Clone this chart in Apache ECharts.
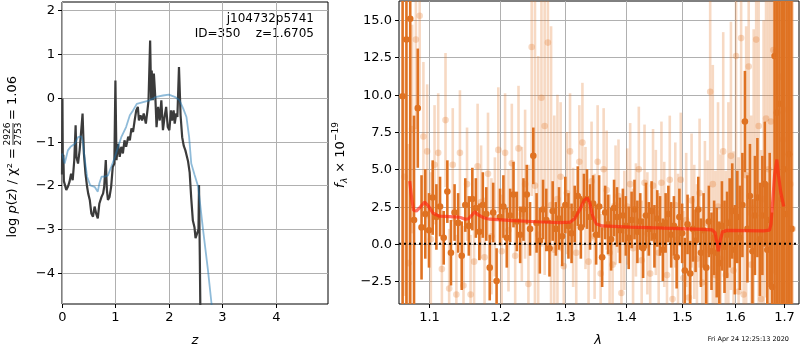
<!DOCTYPE html>
<html>
<head>
<meta charset="utf-8">
<title>redshift fit</title>
<script src="https://cdn.jsdelivr.net/npm/echarts@6.0.0/dist/echarts.min.js"></script>
<style>
  html, body { margin: 0; padding: 0; background: #fff; }
  #main { width: 800px; height: 350px; }
</style>
</head>
<body>
<div id="main"></div>
<script>
// 左图: log p(z)
const pzZ = [0.000, 0.008, 0.016, 0.025, 0.035, 0.05, 0.08, 0.11, 0.14, 0.17, 0.20, 0.23, 0.255, 0.27, 0.30, 0.33, 0.36, 0.385, 0.41, 0.44,
  0.47, 0.49, 0.52, 0.55, 0.58, 0.61, 0.64, 0.67, 0.70, 0.74, 0.77, 0.79, 0.82, 0.84, 0.86, 0.89, 0.92, 0.95, 0.98, 1.00,
  1.02, 1.05, 1.08, 1.11, 1.14, 1.17, 1.20, 1.24, 1.27, 1.30, 1.33, 1.36, 1.39, 1.42, 1.44, 1.47, 1.50, 1.53, 1.57, 1.60,
  1.62, 1.65, 1.67, 1.68, 1.70, 1.72, 1.75, 1.77, 1.80, 1.83, 1.86, 1.89, 1.92, 1.95, 1.98, 2.01, 2.04, 2.06, 2.09, 2.11,
  2.14, 2.16, 2.19, 2.22, 2.25, 2.28, 2.31, 2.33, 2.36, 2.39, 2.42, 2.45, 2.48, 2.50, 2.53, 2.555, 2.565, 2.58, 2.60];
const pzLogP = [-1.75, -0.02, -1.6, -1.3, -1.9, -1.88, -2.1, -2.03, -1.92, -1.73, -1.88, -1.42, -0.63, -1.35, -1.5, -1.2, -1.16, -0.36, -1.27, -1.73,
  -2.03, -2.18, -2.33, -2.64, -2.71, -2.48, -2.64, -2.75, -2.41, -2.26, -2.18, -2.03, -1.42, -2.1, -2.33, -2.26, -2.03, -1.58, -1.5, 0.39,
  -1.42, -1.05, -1.35, -1.12, -1.27, -0.97, -1.12, -0.89, -0.97, -0.7, -0.78, -0.52, -0.29, -0.21, -0.52, -0.4, -0.52, -0.36, -0.59, -0.29,
  -0.06, 1.3, -0.06, 0.62, -0.06, 0.55, -0.06, -0.67, -0.21, -0.52, -0.06, -0.74, -0.44, -0.21, -0.67, -0.74, -0.29, -0.52, -0.29, -0.59,
  -0.36, -0.44, 0.7, -0.4, -0.9, -1.1, -1.2, -1.3, -1.45, -1.7, -2.3, -2.8, -2.95, -3.2, -3.24, -3.0, -1.99, -3.6, -6.0];
const priorZ = [0, 0.05, 0.08, 0.11, 0.16, 0.24, 0.30, 0.36, 0.39, 0.42, 0.47, 0.53, 0.61, 0.67, 0.70, 0.74, 0.80, 0.86, 0.92, 0.99,
  1.05, 1.11, 1.20, 1.27, 1.33, 1.40, 1.52, 1.64, 1.77, 1.89, 2.00, 2.11, 2.20, 2.27, 2.33, 2.38, 2.42, 2.48, 2.55, 2.64,
  2.73, 2.80, 2.84];
const priorLogP = [-1.27, -1.5, -1.35, -1.2, -1.12, -1.05, -0.9, -0.88, -1.0, -1.35, -1.8, -2.0, -2.03, -2.14, -1.95, -1.8, -1.8, -1.77, -1.58, -1.35,
  -1.12, -0.9, -0.67, -0.4, -0.29, -0.14, -0.1, -0.06, 0.02, 0.05, 0.07, 0.02, -0.06, -0.25, -0.44, -0.9, -1.5, -1.75, -2.03, -3.0,
  -3.9, -4.7, -5.2];

// 右图: 光谱
const darkWave = [1.065, 1.070, 1.075, 1.080, 1.085, 1.090, 1.095, 1.100, 1.105, 1.110,
  1.115, 1.120, 1.125, 1.130, 1.135, 1.140, 1.145, 1.150, 1.155, 1.160,
  1.165, 1.170, 1.175, 1.180, 1.185, 1.190, 1.195, 1.200, 1.205, 1.210,
  1.215, 1.220, 1.225, 1.230, 1.235, 1.240, 1.245, 1.250, 1.255, 1.260,
  1.265, 1.270, 1.275, 1.280, 1.285, 1.290, 1.295, 1.300, 1.305, 1.310,
  1.315, 1.320, 1.325, 1.330, 1.335, 1.340, 1.345, 1.350, 1.355, 1.360,
  1.365, 1.370, 1.375, 1.380, 1.385, 1.390, 1.395, 1.400, 1.405, 1.410,
  1.415, 1.420, 1.425, 1.430, 1.435, 1.440, 1.445, 1.450, 1.455, 1.460,
  1.465, 1.470, 1.475, 1.480, 1.485, 1.490, 1.495, 1.500, 1.505, 1.510,
  1.515, 1.520, 1.525, 1.530, 1.535, 1.540, 1.545, 1.550, 1.555, 1.560,
  1.565, 1.570, 1.575, 1.580, 1.585, 1.590, 1.595, 1.600, 1.605, 1.610,
  1.615, 1.620, 1.625, 1.630, 1.635, 1.640, 1.645, 1.650, 1.655, 1.660,
  1.665, 1.670, 1.675, 1.680, 1.685, 1.690, 1.695, 1.700, 1.705, 1.710,
  1.715];
const darkFlux = [9.9, 13.7, 15.1, 1.6, 9.1, 1.1, 2.0, 0.9, 3.1, 1.8,
  2.5, 0.4, 3.5, -0.6, 2.1, 1.4, -0.8, 2.6, 1.2, 3.0,
  2.4, 0.8, 2.6, 2.0, -1.6, 2.1, -2.5, 1.8, 2.5, 0.4,
  1.9, 3.3, 1.5, 0.6, 2.3, 3.3, 1.0, 5.9, 1.4, 0.2,
  2.3, 1.6, -0.3, 2.2, 1.0, 1.7, 0.5, 2.6, 1.2, 0.7,
  2.0, 3.2, 1.1, 2.9, 3.0, 1.8, 2.7, 0.6, 2.5, -0.9,
  2.1, 1.3, 0.3, 2.4, 1.8, 0.9, 1.9, 1.2, 0.4, 1.6,
  2.3, 0.8, 1.5, -0.3, 1.9, 1.0, 2.2, 0.5, 1.7, 1.2,
  -0.4, 1.4, 2.0, 0.6, 1.2, -0.9, 1.8, 0.7, -1.8, 1.3,
  -2.0, 1.0, 0.2, 2.3, -0.6, 0.9, -1.6, 1.5, -0.5, 0.4,
  -0.6, -1.3, 1.2, -0.2, 0.6, 1.4, 2.2, -0.4, 1.8, 0.4,
  2.6, 8.2, 1.0, 3.2, -0.5, 1.9, 3.1, 0.3, 1.9, 4.0,
  -0.4, 1.6, -2.9, 12.6, 8.8, 9.4, 3.0, 5.0, 2.0, 6.0,
  1.0];
const darkErr = [25, 25, 25, 7, 4, 3.5, 3, 2.5, 2.5, 2.2,
  2.0, 1.8, 2.1, 2.2, 1.9, 2.0, 2.3, 1.8, 2.0, 2.1,
  2.0, 1.9, 2.2, 1.8, 2.2, 2.0, 2.2, 1.9, 2.1, 2.0,
  1.8, 2.2, 2.0, 1.9, 2.1, 2.0, 1.8, 1.9, 2.0, 2.2,
  2.0, 2.1, 1.9, 2.0, 1.8, 2.1, 2.0, 1.9, 2.2, 2.0,
  1.9, 2.0, 2.1, 1.8, 2.0, 2.2, 1.9, 2.0, 2.1, 2.0,
  1.8, 2.0, 2.1, 1.9, 2.0, 2.2, 1.8, 2.0, 2.1, 1.9,
  2.0, 2.1, 1.9, 2.0, 2.2, 1.8, 2.0, 2.1, 1.9, 2.0,
  2.1, 2.0, 1.9, 2.2, 2.0, 2.1, 1.9, 2.0, 2.2, 2.0,
  2.2, 2.2, 2.1, 2.2, 2.3, 2.5, 2.5, 2.4, 2.6, 2.5,
  3.0, 2.8, 3.0, 3.1, 2.9, 3.0, 3.2, 3.0, 3.1, 3.5,
  3.5, 3.4, 3.6, 3.5, 3.5, 4.0, 4.0, 3.8, 4.0, 4.2,
  4.5, 4.5, 5.0, 20, 20, 20, 25, 25, 25, 25,
  25];

const lightWave = [1.0675, 1.0725, 1.0775, 1.0825, 1.0875, 1.0925, 1.0975, 1.1025, 1.1075, 1.1125,
  1.1175, 1.1225, 1.1275, 1.1325, 1.1375, 1.1425, 1.1475, 1.1525, 1.1575, 1.1625,
  1.1675, 1.1725, 1.1775, 1.1825, 1.1875, 1.1925, 1.1975, 1.2025, 1.2075, 1.2125,
  1.2175, 1.2225, 1.2275, 1.2325, 1.2375, 1.2425, 1.2475, 1.2525, 1.2575, 1.2625,
  1.2675, 1.2725, 1.2775, 1.2825, 1.2875, 1.2925, 1.2975, 1.3025, 1.3075, 1.3125,
  1.3175, 1.3225, 1.3275, 1.3325, 1.3375, 1.3425, 1.3475, 1.3525, 1.3575, 1.3625,
  1.3675, 1.3725, 1.3775, 1.3825, 1.3875, 1.3925, 1.3975, 1.4025, 1.4075, 1.4125,
  1.4175, 1.4225, 1.4275, 1.4325, 1.4375, 1.4425, 1.4475, 1.4525, 1.4575, 1.4625,
  1.4675, 1.4725, 1.4775, 1.4825, 1.4875, 1.4925, 1.4975, 1.5025, 1.5075, 1.5125,
  1.5175, 1.5225, 1.5275, 1.5325, 1.5375, 1.5425, 1.5475, 1.5525, 1.5575, 1.5625,
  1.5675, 1.5725, 1.5775, 1.5825, 1.5875, 1.5925, 1.5975, 1.6025, 1.6075, 1.6125,
  1.6175, 1.6225, 1.6275, 1.6325, 1.6375, 1.6425, 1.6475, 1.6525, 1.6575, 1.6625,
  1.6675, 1.6725, 1.6775, 1.6825, 1.6875, 1.6925, 1.6975, 1.7025, 1.7075, 1.7125,
  1.7175];
const lightFlux = [4.5, -1.3, 7.7, 13.7, 15.3, 7.2, 6.2, 0.3, 5.3, 6.1,
  -1.7, 8.3, -3.0, 5.3, -3.4, 6.1, -2.8, 4.0, -3.4, -1.2,
  5.2, 2.8, -0.9, 4.7, 0.5, 1.8, 6.3, -0.5, 6.1, 0.9,
  5.4, -0.8, 6.4, 2.0, 4.0, -2.7, 13.2, 3.9, 0.6, 9.8,
  7.9, 13.5, 2.6, -0.4, 3.0, 4.5, -1.5, 3.4, 6.2, 1.1,
  -0.6, 5.5, 6.8, 2.4, -1.2, 4.2, 0.5, 5.5, -2.0, 5.0,
  3.6, -0.6, -1.4, 2.6, 3.2, -3.3, 0.9, 2.5, 4.0, -0.3,
  1.6, 5.0, -1.1, 4.1, 0.7, -2.0, 3.9, 2.1, -0.6, 4.1,
  1.3, -2.1, 4.3, -3.7, 2.6, 0.3, 4.3, -2.3, 1.6, -3.6,
  2.9, 0.8, -1.0, 3.4, -2.6, 1.4, -0.4, 10.2, 4.0, -2.1,
  2.5, -1.0, 6.2, -2.1, 1.5, 5.9, -1.8, 12.6, -3.2, 13.8,
  -3.4, 4.6, 11.9, -1.4, 2.4, 13.7, 7.9, -3.7, 3.0, 8.4,
  5.0, 8.2, 13.0, 12.9, 3.5, 11.2, 7.0, 2.0, 9.0, 4.0,
  1.0];
const lightErr = [8, 8, 7, 6, 6, 5, 4.5, 4.5, 4, 4,
  4.0, 4.5, 4.0, 3.8, 4.0, 4.2, 4.0, 3.8, 4.0, 4.0,
  4.2, 3.8, 4.0, 4.1, 3.9, 4.0, 4.2, 3.8, 4.0, 4.1,
  4.0, 4.0, 4.2, 4.5, 5.0, 8.0, 10, 13, 12, 10,
  10, 12, 12, 9, 7, 5, 4.0, 4.1, 3.9, 4.0,
  4.2, 3.8, 4.0, 4.1, 3.9, 4.0, 4.2, 3.8, 4.0, 4.1,
  4.0, 3.9, 4.1, 4.0, 3.8, 4.2, 4.0, 3.9, 4.1, 4.0,
  3.8, 4.2, 4.0, 3.9, 4.1, 4.0, 3.8, 4.2, 4.0, 4.1,
  4.2, 4.0, 4.3, 4.1, 4.2, 4.4, 4.5, 4.5, 4.5, 5.0,
  4.5, 4.5, 5.0, 5.0, 5.0, 5.5, 6.0, 8.0, 8.0, 7.0,
  7, 7, 8, 7, 8, 9, 8, 10, 9, 10,
  9, 10, 10, 10, 12, 10, 12, 10, 12, 12,
  14, 14, 15, 15, 20, 20, 20, 20, 20, 20,
  20];

const modelWave = [1.0743, 1.0770, 1.0795, 1.0830, 1.0880, 1.0942, 1.0990, 1.1055, 1.1145, 1.1283,
  1.1422, 1.1500, 1.1545, 1.1590, 1.1634, 1.1680, 1.1760, 1.1851, 1.2194, 1.2550,
  1.2913, 1.3073, 1.3153, 1.3234, 1.3300, 1.3353, 1.3398, 1.3440, 1.3500, 1.3600,
  1.4072, 1.4658, 1.5272, 1.5555, 1.5618, 1.5650, 1.5682, 1.5715, 1.5760, 1.5850,
  1.6572, 1.6695, 1.6725, 1.6765, 1.6800, 1.6846, 1.6880, 1.6925, 1.6990];
const modelFlux = [4.2, 3.0, 2.25, 2.2, 2.45, 2.8, 2.55, 2.05, 1.85, 1.82,
  1.78, 1.65, 1.68, 1.9, 2.15, 1.95, 1.75, 1.65, 1.55, 1.48,
  1.42, 1.45, 1.7, 2.3, 2.9, 3.08, 2.7, 1.9, 1.35, 1.2,
  1.12, 1.05, 0.98, 0.94, 0.75, 0.1, -0.5, 0.2, 0.8, 0.9,
  0.87, 0.92, 1.3, 3.0, 4.6, 5.65, 4.6, 3.5, 2.5];

const zTicks = [0, 1, 2, 3, 4];
const logpTicks = [-4, -3, -2, -1, 0, 1, 2];
const waveTicks = [1.1, 1.2, 1.3, 1.4, 1.5, 1.6, 1.7];
const fluxTicks = [-2.5, 0, 2.5, 5, 7.5, 10, 12.5, 15];

const zRange = [0, 4.98];
const logpRange = [-4.70, 2.18];
const lnWaveRange = [Math.log(1.0603), Math.log(1.731)];
const fluxRange = [-4.04, 16.29];

const FONT = '"DejaVu Sans"';
const tickFont = '13px ' + FONT;
const minus = (s) => String(s).replace('-', '\u2212');

function hiddenAxis(idx, range) {
  return {
    type: 'value', gridIndex: idx, min: range[0], max: range[1],
    axisLine: { show: false }, axisTick: { show: false },
    axisLabel: { show: false }, splitLine: { show: false }
  };
}

// 网格线 + 刻度 + 标签 (自己画, 因为右图横轴是对数波长)
function xTickSeries(idx, ticks, toX, yRange, fmt) {
  return {
    type: 'custom', xAxisIndex: idx, yAxisIndex: idx, z: 1, clip: false, silent: true,
    data: ticks.map(t => [toX(t), yRange[0]]),
    renderItem: function (params, api) {
      const b = api.coord([api.value(0), yRange[0]]);
      const t = api.coord([api.value(0), yRange[1]]);
      const x = Math.round(b[0]) + 0.5;
      return {
        type: 'group', children: [
          { type: 'line', shape: { x1: x, y1: t[1], x2: x, y2: b[1] }, style: { stroke: '#b0b0b0', lineWidth: 1 } },
          { type: 'line', shape: { x1: x, y1: b[1], x2: x, y2: b[1] + 4 }, style: { stroke: '#000', lineWidth: 1 } },
          { type: 'text', x: x, y: b[1] + 7, style: { text: fmt(ticks[params.dataIndex]), font: tickFont, fill: '#000', align: 'center', verticalAlign: 'top' } }
        ]
      };
    }
  };
}

function yTickSeries(idx, ticks, xRange, fmt) {
  return {
    type: 'custom', xAxisIndex: idx, yAxisIndex: idx, z: 1, clip: false, silent: true,
    data: ticks.map(t => [xRange[0], t]),
    renderItem: function (params, api) {
      const l = api.coord([xRange[0], api.value(1)]);
      const r = api.coord([xRange[1], api.value(1)]);
      const y = Math.round(l[1]) + 0.5;
      return {
        type: 'group', children: [
          { type: 'line', shape: { x1: l[0], y1: y, x2: r[0], y2: y }, style: { stroke: '#b0b0b0', lineWidth: 1 } },
          { type: 'line', shape: { x1: l[0] - 4, y1: y, x2: l[0], y2: y }, style: { stroke: '#000', lineWidth: 1 } },
          { type: 'text', x: l[0] - 7, y: y, style: { text: fmt(ticks[params.dataIndex]), font: tickFont, fill: '#000', align: 'right', verticalAlign: 'middle' } }
        ]
      };
    }
  };
}

function errorBars(wave, flux, err, color, z) {
  return {
    type: 'custom', xAxisIndex: 1, yAxisIndex: 1, z: z, clip: true, silent: true,
    data: wave.map((w, i) => [Math.log(w), flux[i], err[i]]),
    renderItem: function (params, api) {
      const x = api.value(0), f = api.value(1), e = api.value(2);
      const p = api.coord([x, f]);
      const hi = api.coord([x, f + e]);
      const lo = api.coord([x, f - e]);
      return {
        type: 'group', children: [
          { type: 'line', shape: { x1: p[0], y1: hi[1], x2: p[0], y2: lo[1] }, style: { stroke: color, lineWidth: 2.6 } },
          { type: 'circle', shape: { cx: p[0], cy: p[1], r: 3.3 }, style: { fill: color } }
        ]
      };
    }
  };
}

const chart = echarts.init(document.getElementById('main'));

let option = {
  animation: false,
  backgroundColor: '#fff',
  grid: [
    { left: 62, top: 2, width: 266, height: 302, show: true, borderColor: '#000', borderWidth: 1, backgroundColor: 'transparent' },
    { left: 399, top: 1, width: 400, height: 303, show: true, borderColor: '#000', borderWidth: 1, backgroundColor: 'transparent' }
  ],
  xAxis: [hiddenAxis(0, zRange), hiddenAxis(1, lnWaveRange)],
  yAxis: [hiddenAxis(0, logpRange), hiddenAxis(1, fluxRange)],
  series: [
    xTickSeries(0, zTicks, t => t, logpRange, t => String(t)),
    yTickSeries(0, logpTicks, zRange, t => minus(t)),
    xTickSeries(1, waveTicks, t => Math.log(t), fluxRange, t => t.toFixed(1)),
    yTickSeries(1, fluxTicks, lnWaveRange, t => minus(t.toFixed(1))),
    {
      type: 'line', xAxisIndex: 0, yAxisIndex: 0, z: 3, showSymbol: false, silent: true,
      data: pzZ.map((z, i) => [z, pzLogP[i]]),
      lineStyle: { color: '#3b3b3b', width: 2.2 }
    },
    {
      type: 'line', xAxisIndex: 0, yAxisIndex: 0, z: 4, showSymbol: false, silent: true,
      data: priorZ.map((z, i) => [z, priorLogP[i]]),
      lineStyle: { color: 'rgba(31,119,180,0.5)', width: 1.8 }
    },
    errorBars(lightWave, lightFlux, lightErr, 'rgba(228,120,40,0.28)', 2),
    errorBars(darkWave, darkFlux, darkErr, '#df7222', 3),
    {
      type: 'line', xAxisIndex: 1, yAxisIndex: 1, z: 4, showSymbol: false, silent: true,
      data: modelWave.map((w, i) => [Math.log(w), modelFlux[i]]),
      lineStyle: { color: 'rgba(255,35,15,0.65)', width: 3.2 }
    },
    {
      type: 'line', xAxisIndex: 1, yAxisIndex: 1, z: 5, showSymbol: false, silent: true,
      data: [[lnWaveRange[0], 0], [lnWaveRange[1], 0]],
      lineStyle: { color: '#000', width: 2, type: [2, 3] }
    }
  ],
  graphic: [
    {
      type: 'group', x: 13, y: 134, rotation: Math.PI / 2,
      children: [
        {
          type: 'text', x: -14, y: 0,
          style: {
            text: '{n|log }{i|p}{n|(}{i|z}{n|) / χ² =}',
            align: 'right', verticalAlign: 'middle', fill: '#000',
            rich: {
              n: { fontSize: 13, fontFamily: FONT },
              i: { fontSize: 13, fontFamily: FONT, fontStyle: 'italic' }
            }
          }
        },
        { type: 'text', x: 0, y: -5, style: { text: '2926', font: '9px ' + FONT, fill: '#000', align: 'center', verticalAlign: 'middle' } },
        { type: 'line', shape: { x1: -11, y1: 0, x2: 11, y2: 0 }, style: { stroke: '#000', lineWidth: 0.8 } },
        { type: 'text', x: 0, y: 6, style: { text: '2753', font: '9px ' + FONT, fill: '#000', align: 'center', verticalAlign: 'middle' } },
        { type: 'text', x: 14, y: 0, style: { text: '= 1.06', font: tickFont, fill: '#000', align: 'left', verticalAlign: 'middle' } }
      ]
    },
    {
      type: 'group', x: 341, y: 155, rotation: Math.PI / 2,
      children: [
        { type: 'text', x: -33, y: 0, style: { text: 'f', font: 'italic 13px ' + FONT, fill: '#000', align: 'left', verticalAlign: 'middle' } },
        { type: 'text', x: -28, y: 4, style: { text: 'λ', font: 'italic 9px ' + FONT, fill: '#000', align: 'left', verticalAlign: 'middle' } },
        { type: 'text', x: -22, y: 0, style: { text: ' × 10', font: tickFont, fill: '#000', align: 'left', verticalAlign: 'middle' } },
        { type: 'text', x: 14, y: -5, style: { text: '\u221219', font: '9px ' + FONT, fill: '#000', align: 'left', verticalAlign: 'middle' } }
      ]
    },
    { type: 'text', x: 195, y: 341, style: { text: 'z', font: 'italic 13px ' + FONT, fill: '#000', align: 'center', verticalAlign: 'middle' } },
    { type: 'text', x: 598, y: 341, style: { text: 'λ', font: 'italic 13px ' + FONT, fill: '#000', align: 'center', verticalAlign: 'middle' } },
    { type: 'text', x: 314, y: 19, style: { text: 'j104732p5741', font: '12px ' + FONT, fill: '#000', align: 'right', verticalAlign: 'middle' } },
    { type: 'text', x: 314, y: 34, style: { text: 'ID=350    z=1.6705', font: '12px ' + FONT, fill: '#000', align: 'right', verticalAlign: 'middle' } },
    { type: 'text', x: 789, y: 339, style: { text: 'Fri Apr 24 12:25:13 2020', font: '6.5px ' + FONT, fill: '#000', align: 'right', verticalAlign: 'middle' } }
  ]
};

chart.setOption(option);
</script>
</body>
</html>
